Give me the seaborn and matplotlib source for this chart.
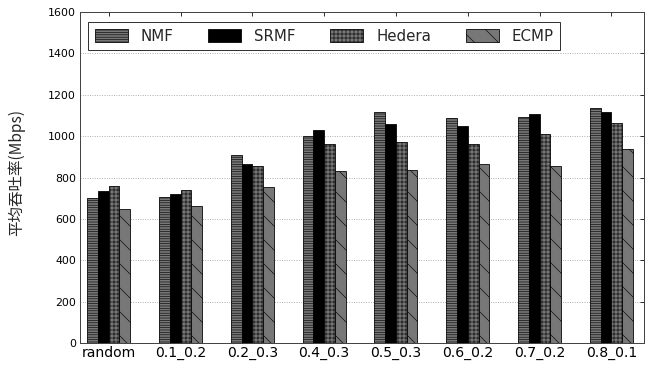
import matplotlib
matplotlib.use("Agg")
import matplotlib.pyplot as plt
import seaborn as sns
import pandas as pd

categories = ["random", "0.1_0.2", "0.2_0.3", "0.4_0.3", "0.5_0.3", "0.6_0.2", "0.7_0.2", "0.8_0.1"]
series_names = ["NMF", "SRMF", "Hedera", "ECMP"]
nmf = [700, 707, 909, 999, 1115, 1089, 1094, 1134]
srmf = [735, 723, 865, 1030, 1058, 1050, 1105, 1118]
hedera = [757, 741, 857, 963, 971, 962, 1012, 1062]
ecmp = [649, 664, 754, 831, 838, 867, 855, 939]
y_ticks = [0, 200, 400, 600, 800, 1000, 1200, 1400, 1600]

rows = []
for name, vals in zip(series_names, [nmf, srmf, hedera, ecmp]):
    for cat, v in zip(categories, vals):
        rows.append({"scenario": cat, "algo": name, "throughput": v})
df = pd.DataFrame(rows)

sns.set_style("white")
plt.rcParams["font.family"] = ["DejaVu Sans"]
plt.rcParams["hatch.linewidth"] = 0.6

fig = plt.figure(figsize=(645 / 72, 365 / 72), dpi=72)
ax = fig.add_axes([0.124, 0.060, 0.874, 0.907])

sns.barplot(data=df, x="scenario", y="throughput", hue="algo",
            order=categories, hue_order=series_names,
            width=0.6, gap=0, ax=ax, legend=False, errorbar=None,
            edgecolor="black", linewidth=0.8)

fills = ["#777777", "#000000", "#777777", "#777777"]
hatches = ["-----", "", "+++", "\\"]
for cont, fc, h in zip(ax.containers, fills, hatches):
    for p in cont.patches:
        p.set_facecolor(fc)
        p.set_edgecolor("black")
        p.set_hatch(h)

ax.set_ylim(0, 1600)
ax.set_yticks(y_ticks)
ax.set_xlim(-0.4, 7.45)
ax.yaxis.grid(True, linestyle=(0, (1, 2)), color="#888888", linewidth=0.8)
ax.set_axisbelow(True)
ax.set_xlabel("")
ax.set_ylabel("平均吞吐率(Mbps)", family=["Noto Sans CJK SC", "DejaVu Sans"],
              fontsize=15.5)
ax.yaxis.set_label_coords(-0.098, 0.515)
ax.tick_params(axis="both", which="both", direction="in", top=True, right=True,
               length=4, width=0.8, colors="black")
ax.tick_params(axis="x", labelsize=14, pad=3)
ax.tick_params(axis="y", labelsize=11, pad=4)
for s in ax.spines.values():
    s.set_visible(True)
    s.set_color("#444444")
    s.set_linewidth(1)

ax.legend(ax.containers, series_names, ncol=4, loc="upper left",
          bbox_to_anchor=(0.014, 0.97), borderaxespad=0, fontsize=15,
          frameon=True, fancybox=False, edgecolor="black", handlelength=2.2,
          handleheight=0.9, columnspacing=2.3, borderpad=0.45,
          handletextpad=0.87)

fig.savefig("out.png", dpi=72)
